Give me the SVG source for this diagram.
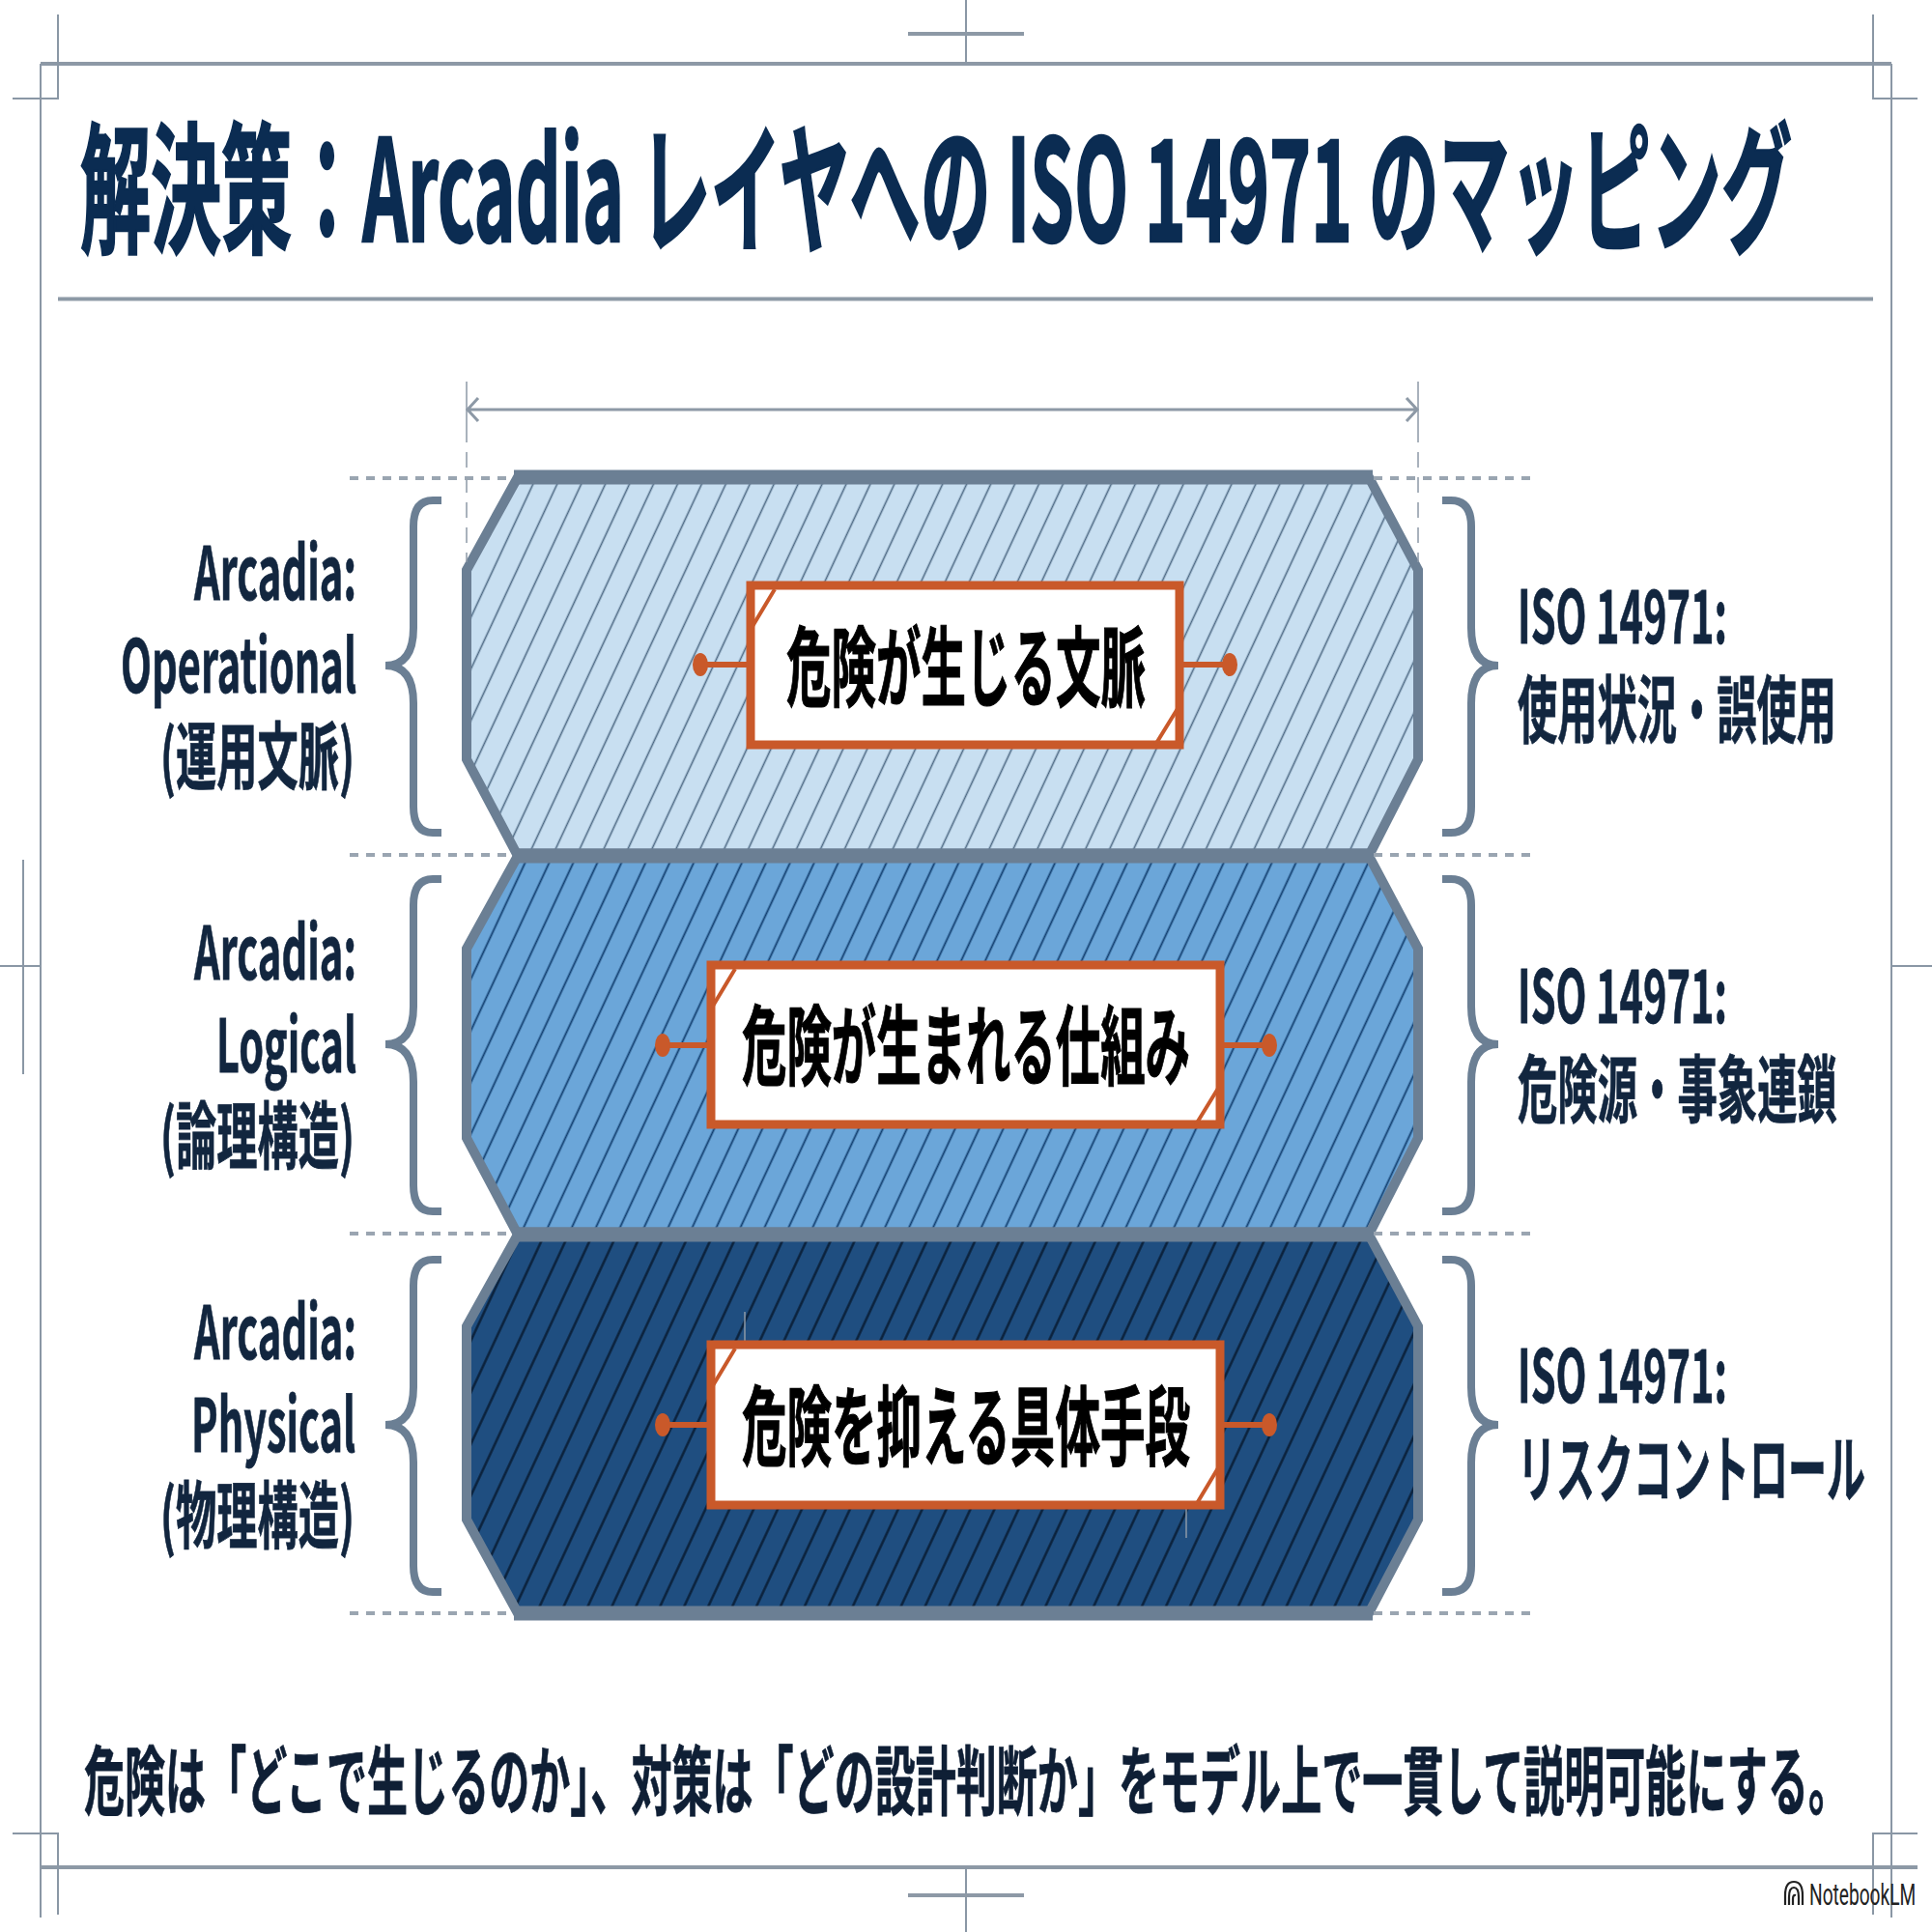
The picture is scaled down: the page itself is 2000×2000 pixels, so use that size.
<svg xmlns="http://www.w3.org/2000/svg" width="2000" height="2000" viewBox="0 0 2000 2000">
<style>
text{font-family:"Noto Sans CJK JP","Noto Sans",sans-serif;font-weight:700}
.t{fill:#0b2c52;stroke:#0b2c52;stroke-width:2.500;font-size:146px}
.l{fill:#12263f;stroke:#12263f;stroke-width:.8px;font-size:76px}
.b{fill:#000;stroke:#000;stroke-width:1.2px;font-size:90px}
.f{fill:#0f1f35;stroke:#0f1f35;stroke-width:.8px;font-size:78px}
.wm{fill:#222;font-family:Roboto,sans-serif;font-weight:400;font-size:32px}
.frame{fill:none;stroke:#8a97a5;stroke-width:2}
.rule{fill:none;stroke:#8d99a6;stroke-width:4}
.hex{stroke:#6b7f94;stroke-width:10;stroke-linejoin:miter}
.edge{stroke:#6b7f94;stroke-width:15}
.brace{fill:none;stroke:#6b7f94;stroke-width:8}
.dash{stroke:#9aa5b1;stroke-width:4;stroke-dasharray:9 8;fill:none}
.box{fill:#fff;stroke:#c9592a;stroke-width:9}
.diag{stroke:#c9592a;stroke-width:4}
.pin{stroke:#c9592a;stroke-width:6}
.dot{fill:#c9592a}
.dim{stroke:#8d99a6;stroke-width:3;fill:none}
.ext{stroke:#8d99a6;stroke-width:1.5;fill:none}
</style>
<defs>
<pattern id="h1" patternUnits="userSpaceOnUse" width="22.6" height="100" patternTransform="rotate(25)"><rect width="22.6" height="100" fill="#c8dff1"/><line x1="11.3" y1="0" x2="11.3" y2="100" stroke="#4f6b85" stroke-width="1.6"/></pattern>
<pattern id="h2" patternUnits="userSpaceOnUse" width="22.6" height="100" patternTransform="rotate(25)"><rect width="22.6" height="100" fill="#6ba6d9"/><line x1="11.3" y1="0" x2="11.3" y2="100" stroke="#123f70" stroke-width="1.8"/></pattern>
<pattern id="h3" patternUnits="userSpaceOnUse" width="22.6" height="100" patternTransform="rotate(25)"><rect width="22.6" height="100" fill="#1f4e80"/><line x1="11.3" y1="0" x2="11.3" y2="100" stroke="#0a1f38" stroke-width="2.400"/></pattern>
</defs>
<rect width="2000" height="2000" fill="#fff"/>
<g id="frame">
<path class="frame" d="M42 66V1985M1958 66V1985"/>
<path class="rule" d="M42 66H1958M42 1933H1985"/>
<path class="frame" d="M60 15V102H13M1939 15V102H1985M60 1982V1898H13M1939 1982V1898H1985"/>
<path class="frame" d="M1000 0V66M1000 1933V2000M24 890V1112M0 1000H42M1958 1000H2000"/>
<path class="rule" d="M940 35H1060M940 1962H1060"/>
<path class="rule" d="M60 309.500H1939"/>
</g>
<g id="title"><text class="t" transform="translate(83 250) scale(.5 1)" textLength="3544" lengthAdjust="spacingAndGlyphs">解決策：Arcadia レイヤへの ISO 14971 のマッピング</text></g>
<g id="layer-operational">
<polygon class="hex" fill="url(#h1)" points="536,494 1417,494 1468,590 1468,786 1417,886 536,886 483,786 483,590"/>
<path class="edge" d="M532 494H1421M532 886H1421"/>
<rect class="box" x="777" y="606" width="444" height="165"/>
<path class="diag" d="M802 610L778 650M1220 732L1196 771"/>
<text class="b" transform="translate(814 724) scale(.5 1)" textLength="744" lengthAdjust="spacingAndGlyphs">危険が生じる文脈</text>
</g>
<g id="layer-logical">
<polygon class="hex" fill="url(#h2)" points="536,886 1417,886 1468,982 1468,1178 1417,1278 536,1278 483,1178 483,982"/>
<path class="edge" d="M532 886H1421M532 1278H1421"/>
<rect class="box" x="736" y="999" width="527" height="165"/>
<path class="diag" d="M761 1003L737 1043M1262 1125L1238 1164"/>
<text class="b" transform="translate(768 1116) scale(.5 1)" textLength="928" lengthAdjust="spacingAndGlyphs">危険が生まれる仕組み</text>
</g>
<g id="layer-physical">
<polygon class="hex" fill="url(#h3)" points="536,1278 1417,1278 1468,1373 1468,1573 1417,1670 536,1670 483,1573 483,1373"/>
<path class="edge" d="M532 1278H1421M532 1670H1421"/>
<path class="ext" d="M771 1358V1390M1228 1560V1592"/>
<rect class="box" x="736" y="1392" width="527" height="166"/>
<path class="diag" d="M761 1396L737 1436M1262 1518L1238 1558"/>
<text class="b" transform="translate(768 1510) scale(.5 1)" textLength="928" lengthAdjust="spacingAndGlyphs">危険を抑える具体手段</text>
</g>
<g id="connectors">
<path class="dim" d="M483 424H1468M495 412L484 424L495 436M1456 412L1467 424L1456 436"/>
<path class="ext" d="M483 395V442M1468 395V442"/>
<path class="ext" stroke-dasharray="16 10" d="M483 442V582M1468 442V582"/>
<path class="dash" d="M362 495H530M1422 495H1590M362 885H530M1422 885H1590M362 1277H530M1422 1277H1590M362 1670H530M1422 1670H1590"/>
<path class="pin" d="M725 688H777M1221 688H1273M686 1082H736M1263 1082H1314M686 1475H736M1263 1475H1314"/>
<ellipse class="dot" cx="725" cy="688" rx="8" ry="12"/><ellipse class="dot" cx="1273" cy="688" rx="8" ry="12"/>
<ellipse class="dot" cx="686" cy="1082" rx="8" ry="12"/><ellipse class="dot" cx="1314" cy="1082" rx="8" ry="12"/>
<ellipse class="dot" cx="686" cy="1475" rx="8" ry="12"/><ellipse class="dot" cx="1314" cy="1475" rx="8" ry="12"/>
</g>
<g id="braces-arcadia">
<path class="brace" d="M457 518H448Q428 518 428 545V650Q428 689 399 689Q428 689 428 728V835Q428 862 448 862H457"/>
<path class="brace" transform="translate(0,392)" d="M457 518H448Q428 518 428 545V650Q428 689 399 689Q428 689 428 728V835Q428 862 448 862H457"/>
<path class="brace" transform="translate(0,786)" d="M457 518H448Q428 518 428 545V650Q428 689 399 689Q428 689 428 728V835Q428 862 448 862H457"/>
</g>
<g id="braces-iso">
<path class="brace" d="M1493 518H1502Q1523 518 1523 545V650Q1523 689 1551 689Q1523 689 1523 728V835Q1523 862 1502 862H1493"/>
<path class="brace" transform="translate(0,392)" d="M1493 518H1502Q1523 518 1523 545V650Q1523 689 1551 689Q1523 689 1523 728V835Q1523 862 1502 862H1493"/>
<path class="brace" transform="translate(0,786)" d="M1493 518H1502Q1523 518 1523 545V650Q1523 689 1551 689Q1523 689 1523 728V835Q1523 862 1502 862H1493"/>
</g>
<g id="labels-arcadia">
<text class="l" transform="translate(201 621) scale(.5 1)" textLength="336" lengthAdjust="spacingAndGlyphs">Arcadia:</text>
<text class="l" transform="translate(125 717) scale(.5 1)" textLength="488" lengthAdjust="spacingAndGlyphs">Operational</text>
<text class="l" transform="translate(166 811) scale(.5 1)" textLength="402" lengthAdjust="spacingAndGlyphs">(運用文脈)</text>
<text class="l" transform="translate(201 1014) scale(.5 1)" textLength="336" lengthAdjust="spacingAndGlyphs">Arcadia:</text>
<text class="l" transform="translate(224 1110) scale(.5 1)" textLength="290" lengthAdjust="spacingAndGlyphs">Logical</text>
<text class="l" transform="translate(166 1204) scale(.5 1)" textLength="402" lengthAdjust="spacingAndGlyphs">(論理構造)</text>
<text class="l" transform="translate(201 1407) scale(.5 1)" textLength="336" lengthAdjust="spacingAndGlyphs">Arcadia:</text>
<text class="l" transform="translate(198 1503) scale(.5 1)" textLength="340" lengthAdjust="spacingAndGlyphs">Physical</text>
<text class="l" transform="translate(166 1597) scale(.5 1)" textLength="402" lengthAdjust="spacingAndGlyphs">(物理構造)</text>
</g>
<g id="labels-iso">
<text class="l" transform="translate(1571 666) scale(.5 1)" textLength="434" lengthAdjust="spacingAndGlyphs">ISO 14971:</text>
<text class="l" transform="translate(1571 763) scale(.5 1)" textLength="660" lengthAdjust="spacingAndGlyphs">使用状況・誤使用</text>
<text class="l" transform="translate(1571 1059) scale(.5 1)" textLength="434" lengthAdjust="spacingAndGlyphs">ISO 14971:</text>
<text class="l" transform="translate(1571 1156) scale(.5 1)" textLength="662" lengthAdjust="spacingAndGlyphs">危険源・事象連鎖</text>
<text class="l" transform="translate(1571 1452) scale(.5 1)" textLength="434" lengthAdjust="spacingAndGlyphs">ISO 14971:</text>
<text class="l" transform="translate(1571 1549) scale(.5 1)" textLength="720" lengthAdjust="spacingAndGlyphs">リスクコントロール</text>
</g>
<g id="footer"><text class="f" transform="translate(87 1873) scale(.5 1)" textLength="3654" lengthAdjust="spacingAndGlyphs">危険は「どこで生じるのか」、対策は「どの設計判断か」をモデル上で一貫して説明可能にする。</text></g>
<g id="watermark">
<path d="M1848 1972V1962Q1848 1948 1857 1948Q1866 1948 1866 1962V1972M1852 1972V1964Q1852 1954 1857 1954Q1862 1954 1862 1964V1972M1856 1972V1966Q1856 1961 1859 1962" fill="none" stroke="#222" stroke-width="2.200"/>
<text class="wm" transform="translate(1873 1972) scale(.66 1)" textLength="167" lengthAdjust="spacingAndGlyphs">NotebookLM</text>
</g>
</svg>
